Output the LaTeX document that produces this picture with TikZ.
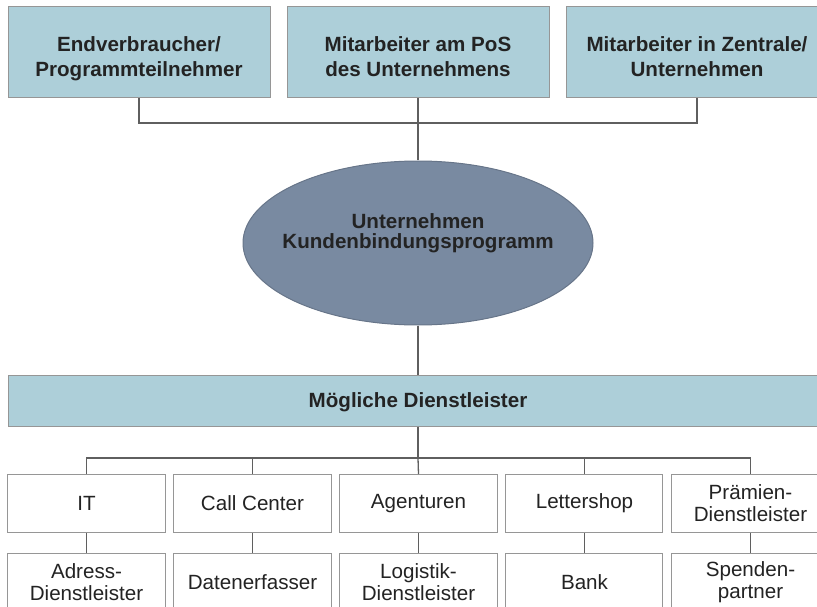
\documentclass[tikz,border=0pt]{standalone}
\usepackage{fontspec}
\setmainfont{Liberation Sans}
\usetikzlibrary{shapes.geometric}

\definecolor{boxblue}{RGB}{173,207,217}
\definecolor{ovalgray}{RGB}{121,138,161}
\definecolor{linegray}{RGB}{95,95,95}
\definecolor{framegray}{RGB}{150,150,150}
\definecolor{textgray}{RGB}{35,35,35}

\begin{document}
\begin{tikzpicture}[x=1pt,y=-1pt,
    topbox/.style={draw=framegray,line width=1pt,fill=boxblue,rectangle,minimum width=262pt,minimum height=91pt,text height=52pt,text depth=3pt,align=center,text=textgray,font=\fontsize{20.6}{25.5}\selectfont\bfseries},
    provider/.style={draw=framegray,line width=1pt,fill=white,rectangle,minimum width=157pt,minimum height=58pt,inner sep=2pt,align=center,text=textgray,font=\fontsize{20.6}{22}\selectfont},
    conn/.style={draw=linegray,line width=1.3pt},
    every matrix/.style={ampersand replacement=\&,column sep=8pt,row sep=20pt}]
    \useasboundingbox (0,0) rectangle (817,607);
    \clip (0,0) rectangle (817,607);

    \node[topbox] (user) at (139,52.5) {Endverbraucher/\\Programmteilnehmer};
    \node[topbox] (pos) at (418,52.5) {Mitarbeiter am PoS\\des Unternehmens};
    \node[topbox] (hq) at (697,52.5) {Mitarbeiter in Zentrale/\\Unternehmen};

    \node[draw=ovalgray!85!black,line width=1pt,fill=ovalgray,ellipse,minimum width=350pt,minimum height=164pt,inner xsep=-12pt,inner ysep=0pt,text depth=24pt,align=center,text=textgray,font=\fontsize{20.6}{20.5}\selectfont\bfseries] (prog) at (418,243) {Unternehmen\\Kundenbindungsprogramm};

    \node[draw=framegray,line width=1pt,fill=boxblue,rectangle,minimum width=820pt,minimum height=51pt,text height=17pt,text depth=4pt,text=textgray,font=\fontsize{20.6}{26}\selectfont\bfseries] (bar) at (418,400.5) {M\"ogliche Dienstleister};

    \matrix (grid) at (418.5,543) {
      \node[provider] (it) {IT}; \&
      \node[provider] (cc) {Call Center}; \&
      \node[provider] (ag) {Agenturen}; \&
      \node[provider] (ls) {Lettershop}; \&
      \node[provider] (pd) {Pr\"amien-\\Dienstleister}; \\
      \node[provider] (adr) {Adress-\\Dienstleister}; \&
      \node[provider] (de) {Datenerfasser}; \&
      \node[provider] (log) {Logistik-\\Dienstleister}; \&
      \node[provider] (bank) {Bank}; \&
      \node[provider] (sp) {Spenden-\\partner}; \\
    };

    \coordinate (join) at (418,123);
    \coordinate (branch) at (418,458);

    % upper tree
    \draw[conn] (user.south) |- (join) -| (hq.south);
    \draw[conn] (pos.south) -- (prog.north);
    \draw[conn] (prog.south) -- (bar.north);

    % lower tree
    \draw[conn] (bar.south) -- (branch);
    \draw[conn] (it.north) |- (branch) -| (pd.north);
    \draw[conn] (cc.north) -- (cc.north |- branch);
    \draw[conn] (ag.north) -- (branch);
    \draw[conn] (ls.north) -- (ls.north |- branch);
    \draw[conn] (it) -- (adr);
    \draw[conn] (cc) -- (de);
    \draw[conn] (ag) -- (log);
    \draw[conn] (ls) -- (bank);
    \draw[conn] (pd) -- (sp);
\end{tikzpicture}
\end{document}
